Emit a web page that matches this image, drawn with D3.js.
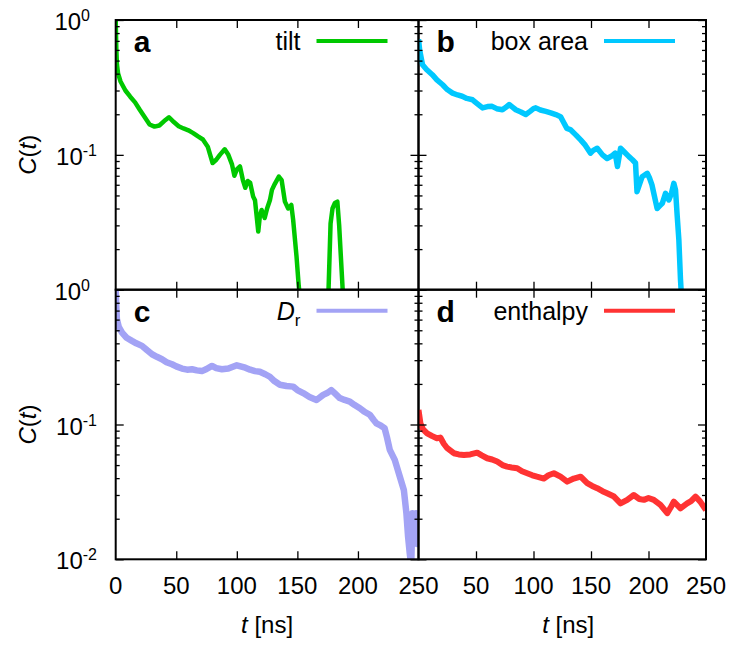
<!DOCTYPE html>
<html>
<head>
<meta charset="utf-8">
<script src="https://cdn.jsdelivr.net/npm/d3@7"></script>
<style>
body { margin: 0; background: #fff; }
text { font-family: "Liberation Sans", Arial, Helvetica, sans-serif; fill: #000; }
</style>
</head>
<body>
<svg width="729" height="647"></svg>
<script>
// time [ns] and correlation C(t); null = gap (negative values on log axis)
var tiltT = [0,0.5,1,2,4,8,12,16,20,24,28,32,36,40,44,48,52,56,60,64,68,72,76,78,80,83,86,90,93,96,98,100,102.6,105,107,109,111,113.5,115,117.7,119,120.5,123,125,127.3,129,131.4,134.7,137,139.7,142.4,145,146.5,149.3,151,152.5,160,175.4,177.4,179,181,183,184.5,186.5,188];
var tiltC = [1,0.62,0.47,0.40,0.35,0.30,0.27,0.245,0.215,0.19,0.168,0.162,0.165,0.178,0.19,0.175,0.163,0.157,0.152,0.145,0.137,0.13,0.115,0.10,0.087,0.092,0.10,0.11,0.10,0.085,0.07,0.078,0.082,0.065,0.057,0.064,0.062,0.049,0.046,0.027,0.035,0.039,0.034,0.040,0.046,0.055,0.061,0.069,0.065,0.045,0.040,0.0425,0.033,0.0176,0.011,0.008,null,0.008,0.031,0.040,0.044,0.045,0.030,0.014,0.008];

var boxT = [0,1,3.5,7,12,16,21,25,29.6,34,38,42,47,51,55.7,60,64,68,73,76,78.8,82,84.6,89,93.3,97,100,102,106,110.7,115,119.4,123.5,126,129,132,137,141,145,149.6,152,155.4,160,164,168,171,173,175.7,179,183,186,188.7,190,192,194.5,198.9,201,203,205,207.5,210,212,214.8,217.7,220,222,223.5,225,226.4,227.8,229];
var boxC = [0.72,0.6,0.466,0.43,0.393,0.36,0.331,0.305,0.287,0.278,0.272,0.262,0.256,0.24,0.223,0.228,0.229,0.22,0.216,0.225,0.236,0.225,0.216,0.208,0.199,0.21,0.22,0.223,0.215,0.21,0.205,0.199,0.192,0.175,0.157,0.154,0.14,0.129,0.118,0.103,0.108,0.112,0.1,0.094,0.098,0.103,0.082,0.112,0.105,0.097,0.092,0.087,0.0533,0.06,0.0689,0.073,0.067,0.0598,0.05,0.040,0.042,0.0437,0.0519,0.0463,0.052,0.0615,0.055,0.0348,0.0234,0.012,0.008];

var drT = [0,0.5,1,2.5,5.2,9,13.4,17,21.7,26,30,34,38.2,42,46.5,50,54.7,59,63,67,71.2,75,79.5,83,87.7,93,100,107,111,115,119,123.5,127.3,131,135.6,141,146.5,150,154.8,160,165.8,171.3,175,178,181,185,189,193.3,197,201.6,205,209.8,213,215.3,219,222,224,226.3,230.4,234.6,237.9,240,241.4,242.8,244,245,246.5,248,249,250];
var drC = [1,0.75,0.603,0.53,0.48,0.44,0.417,0.40,0.383,0.355,0.332,0.318,0.305,0.29,0.28,0.27,0.26,0.255,0.257,0.252,0.249,0.258,0.272,0.262,0.257,0.26,0.275,0.264,0.255,0.249,0.246,0.236,0.226,0.21,0.197,0.193,0.191,0.18,0.171,0.16,0.152,0.166,0.172,0.180,0.17,0.157,0.152,0.148,0.14,0.132,0.125,0.118,0.108,0.102,0.098,0.094,0.08,0.0648,0.0546,0.041,0.0327,0.022,0.0147,0.011,0.009,0.022,0.016,0.022,0.013,0.018];

var enthT = [0,1.7,4,7.5,12,16,19,22,25,30.7,35,39.4,45,51,55,59.7,64,68.4,73,77,81,85.8,90,94.5,99,103,109,113,117.7,123.5,129.3,135,141,146.7,151,155.4,160,164,170,175.7,181.5,187.2,192,196,200,204.6,210.4,216.3,219,222,227.8,233.6,237,240.9,245,250];
var enthC = [0.128,0.102,0.092,0.086,0.082,0.079,0.08,0.072,0.0667,0.0612,0.06,0.0594,0.06,0.0618,0.059,0.0562,0.055,0.0531,0.05,0.0487,0.048,0.0474,0.045,0.0435,0.042,0.041,0.0397,0.042,0.0435,0.041,0.0377,0.0397,0.041,0.0367,0.035,0.0337,0.032,0.0309,0.0292,0.026,0.0276,0.030,0.028,0.0276,0.0285,0.0276,0.0253,0.022,0.024,0.0268,0.0239,0.026,0.027,0.0292,0.0268,0.0232];

var xTickVals = [0,50,100,150,200,250];
var yDomain = [0.01,1];

var svg = d3.select("svg");

// panel frames: columns and rows in px
var cols = [[115.7,418.5],[418.5,706]];
var rows = [[20,289.7],[289.7,559.3]];

var panels = [
	{id:"a", name:"tilt", t:tiltT, c:tiltC, color:"#00c800", width:4.5, col:0, row:0},
	{id:"b", name:"box area", t:boxT, c:boxC, color:"#00c8ff", width:5.5, col:1, row:0},
	{id:"c", name:"D", sub:"r", t:drT, c:drC, color:"#a3a3f5", width:6.5, col:0, row:1},
	{id:"d", name:"enthalpy", t:enthT, c:enthC, color:"#ff3333", width:6, col:1, row:1}
];

panels.forEach(function(p,k){
	var x0 = cols[p.col][0], x1 = cols[p.col][1];
	var y0 = rows[p.row][0], y1 = rows[p.row][1];
	var x = d3.scaleLinear().domain([0,250]).range([x0,x1]);
	var y = d3.scaleLog().domain(yDomain).range([y1,y0]);
	var g = svg.append("g").attr("class","panel " + p.id);

	g.append("clipPath").attr("id","clip"+k)
		.append("rect")
		.attr("x",x0).attr("y",y0)
		.attr("width",x1-x0).attr("height",y1-y0);

	var idx = d3.range(p.t.length);
	var line = d3.line()
		.defined(function(i){ return p.c[i] != null; })
		.x(function(i){ return x(p.t[i]); })
		.y(function(i){ return y(Math.max(p.c[i],0.002)); });

	g.append("path")
		.attr("clip-path","url(#clip"+k+")")
		.attr("d", line(idx))
		.attr("fill","none")
		.attr("stroke",p.color)
		.attr("stroke-width",p.width)
		.attr("stroke-linejoin","round");

	// ticks, all pointing inwards
	var inner = xTickVals.slice(1,-1);
	var majors = y.ticks().filter(function(v){ return Math.abs(Math.log10(v) - Math.round(Math.log10(v))) < 1e-6; });
	var minors = y.ticks().filter(function(v){ return majors.indexOf(v) < 0; });

	function tickAxis(axis, tr){
		var a = g.append("g").attr("transform",tr).call(axis);
		a.select(".domain").remove();
		a.selectAll("line").attr("stroke","#000").attr("stroke-width",1.3);
		a.selectAll("text").remove();
	}
	tickAxis(d3.axisBottom(x).tickValues(inner).tickSize(8), "translate(0,"+y0+")");
	tickAxis(d3.axisTop(x).tickValues(inner).tickSize(8), "translate(0,"+y1+")");
	tickAxis(d3.axisRight(y).tickValues(majors).tickSize(8), "translate("+x0+",0)");
	tickAxis(d3.axisRight(y).tickValues(minors).tickSize(4), "translate("+x0+",0)");
	tickAxis(d3.axisLeft(y).tickValues(majors).tickSize(8), "translate("+x1+",0)");
	tickAxis(d3.axisLeft(y).tickValues(minors).tickSize(4), "translate("+x1+",0)");

	g.append("rect")
		.attr("x",x0).attr("y",y0)
		.attr("width",x1-x0).attr("height",y1-y0)
		.attr("fill","none").attr("stroke","#000").attr("stroke-width",2);

	// panel letter
	g.append("text")
		.attr("x",x0+18).attr("y",y0+32)
		.attr("font-size",30).attr("font-weight","bold")
		.text(p.id);

	// legend key
	g.append("line")
		.attr("x1",x1-102).attr("x2",x1-31)
		.attr("y1",y0+21).attr("y2",y0+21)
		.attr("stroke",p.color).attr("stroke-width",4);
	var lt = g.append("text")
		.attr("x",x1-118).attr("y",y0+30)
		.attr("text-anchor","end")
		.attr("font-size",25);
	if (p.sub) {
		lt.append("tspan").attr("font-style","italic").text(p.name);
		lt.append("tspan").attr("dy",6).attr("font-size",17).text(p.sub);
	} else {
		lt.text(p.name);
	}

	// y tick labels on the left column
	if (p.col == 0) {
		majors.forEach(function(v){
			var e = Math.round(Math.log10(v));
			if (p.row == 0 && e == -2) return;
			var tx = g.append("text")
				.attr("x", e == 0 ? 90 : 97)
				.attr("y", y(v)+10)
				.attr("text-anchor","end")
				.attr("font-size",24);
			tx.append("tspan").text("10");
			tx.append("tspan").attr("dy",-9).attr("font-size",16).text(e == 0 ? "0" : "-" + (-e));
		});
		var yl = g.append("text")
			.attr("transform","translate(36,"+((y0+y1)/2)+") rotate(-90)")
			.attr("text-anchor","middle")
			.attr("font-size",24);
		yl.append("tspan").attr("font-style","italic").text("C");
		yl.append("tspan").text("(");
		yl.append("tspan").attr("font-style","italic").text("t");
		yl.append("tspan").text(")");
	}

	// x tick labels on the bottom row
	if (p.row == 1) {
		xTickVals.forEach(function(v){
			if (p.col == 1 && v == 0) return;
			g.append("text")
				.attr("x",x(v)).attr("y",594)
				.attr("text-anchor","middle")
				.attr("font-size",24)
				.text(v);
		});
		var xl = g.append("text")
			.attr("x",(x0+x1)/2 + (p.col == 1 ? 6 : 0)).attr("y",633)
			.attr("text-anchor","middle")
			.attr("font-size",24);
		xl.append("tspan").attr("font-style","italic").text("t");
		xl.append("tspan").text(" [ns]");
	}
});
</script>
</body>
</html>
